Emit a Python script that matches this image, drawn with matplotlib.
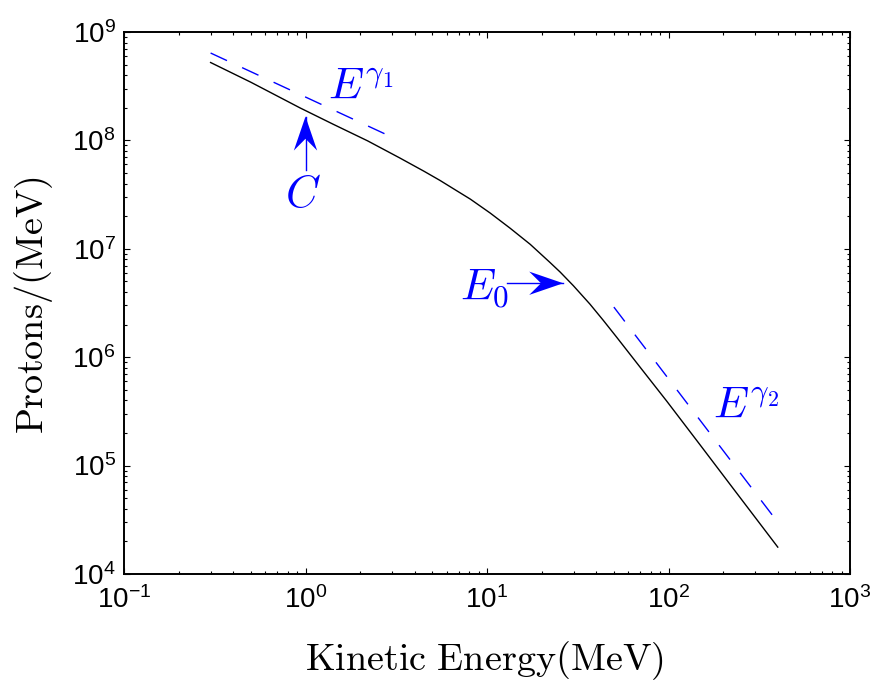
import numpy as np
import matplotlib
matplotlib.use("Agg")
import matplotlib.pyplot as plt
import matplotlib.transforms as mtransforms
from matplotlib.patches import Polygon
from matplotlib.ticker import LogLocator, NullFormatter

plt.rcParams['font.family'] = ['Liberation Sans', 'DejaVu Sans']
plt.rcParams['mathtext.fontset'] = 'cm'

# proton spectrum
energy = [0.3, 0.5, 0.93, 1.42, 2.2, 3.3, 4.5, 5.5, 6.7, 8.1, 10.4, 13.4,
          17.3, 22.2, 25.3, 29.9, 36.9, 43.7, 51.8, 69.7, 97.7, 149, 228, 400]
protons = [5.23e8, 3.44e8, 2.0e8, 1.41e8, 9.9e7, 6.9e7, 5.19e7, 4.28e7,
           3.49e7, 2.87e7, 2.14e7, 1.55e7, 1.10e7, 7.5e6, 6.1e6, 4.57e6,
           3.09e6, 2.19e6, 1.53e6, 8.1e5, 3.94e5, 1.56e5, 6.1e4, 1.77e4]

# power-law guides
fit1_e = [0.3, 3.0]
fit1_n = [6.4e8, 1.07e8]
fit2_e = [50, 400]
fit2_n = [2.9e6, 3.0e4]

blue = (0, 0, 1)


def arrow(ax, tail, tip, angle):
    # shaft + notched head drawn in points around the tip
    ax.plot([tail[0], tip[0]], [tail[1], tip[1]], color=blue, lw=1.0)
    L, W, N = 24.5, 8.4, 16.0
    verts = [(0, 0), (-L, W), (-N, 0), (-L, -W)]
    trans = (mtransforms.Affine2D().rotate_deg(angle).scale(1 / 72.)
             + ax.figure.dpi_scale_trans
             + mtransforms.ScaledTranslation(tip[0], tip[1], ax.transData))
    ax.add_patch(Polygon(verts, closed=True, transform=trans,
                         facecolor=blue, edgecolor='none', clip_on=False))


fig = plt.figure(figsize=(8.77, 6.81), dpi=100)
ax = fig.add_axes([124 / 877, 1 - 574 / 681, 726 / 877, 542 / 681])

ax.loglog(energy, protons, 'k-', lw=1.0)
ax.loglog(fit1_e, fit1_n, color=blue, lw=1.0, ls='--', dashes=(13, 12))
ax.loglog(fit2_e, fit2_n, color=blue, lw=1.0, ls='--', dashes=(13, 12))

ax.set_xlim(0.1, 1000)
ax.set_ylim(1e4, 1e9)

ax.xaxis.set_major_locator(LogLocator(base=10, numticks=10))
ax.yaxis.set_major_locator(LogLocator(base=10, numticks=10))
ax.xaxis.set_minor_locator(LogLocator(base=10, subs=np.arange(2, 10), numticks=20))
ax.yaxis.set_minor_locator(LogLocator(base=10, subs=np.arange(2, 10), numticks=20))
ax.xaxis.set_minor_formatter(NullFormatter())
ax.yaxis.set_minor_formatter(NullFormatter())

ax.tick_params(which='both', direction='in', top=True, right=True,
               labelsize=20, width=0.8)
ax.tick_params(which='major', length=4.5)
ax.tick_params(which='minor', length=2.5)
ax.tick_params(axis='x', pad=9)
ax.tick_params(axis='y', pad=6)
for s in ax.spines.values():
    s.set_linewidth(1.4)

ax.set_xlabel(r'$\mathrm{Kinetic\ Energy(MeV)}$', fontsize=27.5)
ax.xaxis.set_label_coords(0.496, -0.12)
ax.set_ylabel(r'$\mathrm{Protons/(MeV)}$', fontsize=27.5)
ax.yaxis.set_label_coords(-0.095, 0.496)

ax.text(1.33, 2.41e8, r'$E^{\gamma_1}$', color=blue, fontsize=32,
        ha='left', va='baseline')
ax.text(0.97, 3.13e7, r'$C$', color=blue, fontsize=32,
        ha='center', va='center')
ax.text(7.1, 3.37e6, r'$E_0$', color=blue, fontsize=32,
        ha='left', va='baseline')
ax.text(176, 2.75e5, r'$E^{\gamma_2}$', color=blue, fontsize=32,
        ha='left', va='baseline')

arrow(ax, (1.0, 5.3e7), (1.0, 1.66e8), 90)
arrow(ax, (12.84, 4.81e6), (26.3, 4.81e6), 0)

fig.savefig('out.png', dpi=100)
